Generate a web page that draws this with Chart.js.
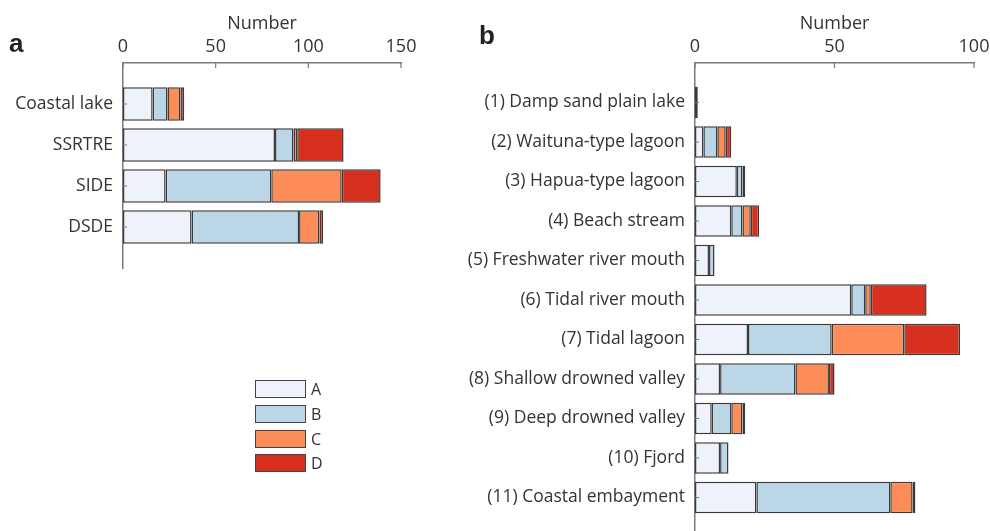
<!DOCTYPE html>
<html>
<head>
<meta charset="utf-8">
<script src="https://cdn.jsdelivr.net/npm/chart.js@4.4.1/dist/chart.umd.min.js"></script>
<style>
  html, body { margin: 0; padding: 0; background: #fff; width: 990px; height: 531px; overflow: hidden; }
  .wrap { position: absolute; top: 0; }
  #wrapA { left: 0; width: 440px; height: 531px; }
  #wrapB { left: 440px; width: 550px; height: 545px; }
  .tag { position: absolute; font: bold 26px "Liberation Sans", Arial, sans-serif; color: #222; }
  #legend { position: absolute; left: 255px; top: 377px; font: 16px "Open Sans", sans-serif; color: #333; }
  #legend .row { display: flex; align-items: center; height: 24.7px; }
  #legend .box { width: 49px; height: 16px; border: 1.5px solid #444; margin-right: 5px; }
</style>
</head>
<body>
<div class="wrap" id="wrapA"><canvas id="chartA"></canvas></div>
<div class="wrap" id="wrapB"><canvas id="chartB"></canvas></div>
<div class="tag" style="left:9px; top:28px;">a</div>
<div class="tag" style="left:479px; top:20px;">b</div>
<div id="legend"></div>
<script>
// panel a: estuary groups
const groupsA = ["Coastal lake", "SSRTRE", "SIDE", "DSDE"];
const aValsA = [16, 82, 23, 37];
const aValsB = [8, 10, 57, 58];
const aValsC = [7, 2, 38, 11];
const aValsD = [2, 25, 21, 2];
const ticksA = [0, 50, 100, 150];

// panel b: estuary types
const groupsB = [
  "(1) Damp sand plain lake", "(2) Waituna-type lagoon", "(3) Hapua-type lagoon",
  "(4) Beach stream", "(5) Freshwater river mouth", "(6) Tidal river mouth",
  "(7) Tidal lagoon", "(8) Shallow drowned valley", "(9) Deep drowned valley",
  "(10) Fjord", "(11) Coastal embayment"
];
const bValsA = [1, 3, 15, 13, 5, 56, 19, 9, 6, 9, 22];
const bValsB = [0, 5, 2, 4, 2, 5, 30, 27, 7, 3, 48];
const bValsC = [0, 3, 0, 3, 0, 2, 26, 12, 4, 0, 8];
const bValsD = [0, 2, 1, 3, 0, 20, 20, 2, 1, 0, 1];
const ticksB = [0, 50, 100];

const seriesNames = ["A", "B", "C", "D"];
const seriesColors = ["#eef2fb", "#bad6e7", "#fc8d59", "#d7301f"];

const FONT = { family: "'Open Sans', sans-serif", size: 18 };
const LABEL_FONT = { family: "'Open Sans', sans-serif", size: 17.5 };
const AXIS_COLOR = "#7a7a7a";

// empty slot above and below so the bars sit like the original
const pad = arr => [null, ...arr, null];
const padLabels = arr => ["", ...arr, ""];

// short inward ticks, drawn from the scales
const inwardTicks = {
  id: "inwardTicks",
  afterDraw(chart) {
    const ctx = chart.ctx;
    const x = chart.scales.x, y = chart.scales.y;
    ctx.save();
    ctx.strokeStyle = AXIS_COLOR;
    ctx.lineWidth = 1.2;
    ctx.beginPath();
    x.ticks.forEach(t => {
      const px = x.getPixelForValue(t.value);
      ctx.moveTo(px, x.bottom);
      ctx.lineTo(px, x.bottom + 5);
    });
    chart.data.labels.forEach((lab, i) => {
      if (!lab) return;
      const py = y.getPixelForValue(i);
      ctx.moveTo(y.right, py);
      ctx.lineTo(y.right + 4, py);
    });
    ctx.stroke();
    ctx.restore();
  }
};

function makeChart(id, labels, series, xMax, xTicks, yWidth, xHeight, padRight, padBottom, catPct) {
  return new Chart(document.getElementById(id), {
    type: "bar",
    data: {
      labels: padLabels(labels),
      datasets: series.map((vals, i) => ({
        label: seriesNames[i],
        data: pad(vals),
        backgroundColor: seriesColors[i],
        borderColor: "#3a3a3a",
        borderWidth: 1.5,
        borderSkipped: false,
        barPercentage: 1,
        categoryPercentage: catPct
      }))
    },
    options: {
      indexAxis: "y",
      responsive: true,
      maintainAspectRatio: false,
      animation: false,
      layout: { padding: { left: 0, top: 0, right: padRight, bottom: padBottom } },
      plugins: { legend: { display: false }, tooltip: { enabled: false } },
      scales: {
        x: {
          position: "top",
          stacked: true,
          min: 0,
          max: xMax,
          afterBuildTicks: s => { s.ticks = xTicks.map(v => ({ value: v })); },
          afterFit: s => { s.height = xHeight; s.paddingLeft = 0; s.paddingRight = 0; },
          grid: { display: false, drawTicks: false },
          border: { display: true, color: AXIS_COLOR, width: 1.5 },
          ticks: { color: "#333", font: FONT, padding: 5, maxRotation: 0 },
          title: { display: true, text: "Number", color: "#333", font: FONT, padding: { top: 13, bottom: 0 } }
        },
        y: {
          stacked: true,
          offset: false,
          afterFit: s => { s.width = yWidth; s.paddingTop = 0; s.paddingBottom = 0; },
          grid: { display: false, drawTicks: false },
          border: { display: true, color: AXIS_COLOR, width: 1.5 },
          ticks: { color: "#333", font: LABEL_FONT, padding: 10, autoSkip: false }
        }
      }
    },
    plugins: [inwardTicks]
  });
}

makeChart("chartA", groupsA, [aValsA, aValsB, aValsC, aValsD], 150, ticksA, 123, 63, 39, 263, 0.82);
makeChart("chartB", groupsB, [bValsA, bValsB, bValsC, bValsD], 100, ticksB, 255, 63, 16, 8, 0.8);

// legend for the whole figure
const legend = document.getElementById("legend");
seriesNames.forEach((name, i) => {
  const row = document.createElement("div");
  row.className = "row";
  const box = document.createElement("div");
  box.className = "box";
  box.style.background = seriesColors[i];
  const txt = document.createElement("span");
  txt.textContent = name;
  row.appendChild(box);
  row.appendChild(txt);
  legend.appendChild(row);
});
</script>
</body>
</html>
